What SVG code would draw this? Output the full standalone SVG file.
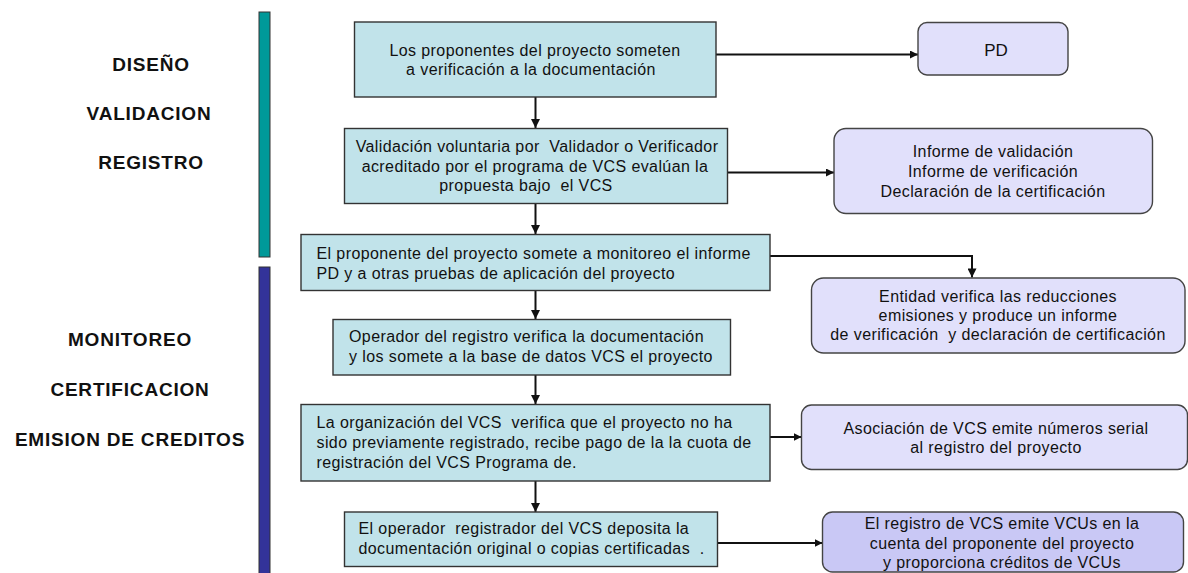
<svg xmlns="http://www.w3.org/2000/svg" width="1188" height="573" viewBox="0 0 1188 573">
<style>
text{font-family:"Liberation Sans",Arial,sans-serif;fill:#111;white-space:pre}
.t{font-size:16px;letter-spacing:0.4px}
.c{text-anchor:middle}
.lbl{font-size:19px;font-weight:bold;letter-spacing:0.8px;text-anchor:middle}
.bx{fill:#c1e3ea;stroke:#333;stroke-width:1.4}
.rb{fill:#e1e0fb;stroke:#444;stroke-width:1.4}
.rb2{fill:#c9c8f5;stroke:#444;stroke-width:1.4}
.cn{fill:none;stroke:#111;stroke-width:2}
</style>
<defs>
<marker id="ah" viewBox="0 0 10 10" refX="10" refY="5" markerWidth="10" markerHeight="9" markerUnits="userSpaceOnUse" orient="auto"><path d="M0,0 L10,5 L0,10 z" fill="#111"/></marker>
<marker id="ahs" viewBox="0 0 10 10" refX="10" refY="5" markerWidth="8" markerHeight="8" markerUnits="userSpaceOnUse" orient="auto"><path d="M0,0 L10,5 L0,10 z" fill="#111"/></marker>
</defs>
<rect width="1188" height="573" fill="#fff"/>

<g id="phase1">
<rect x="259" y="12" width="11" height="245" fill="#009999" stroke="#333" stroke-width="1"/>
<text class="lbl" x="151" y="71">DISEÑO</text>
<text class="lbl" x="149" y="120">VALIDACION</text>
<text class="lbl" x="151" y="169">REGISTRO</text>
</g>
<g id="phase2">
<rect x="259" y="267" width="11" height="310" fill="#333399" stroke="#333" stroke-width="1"/>
<text class="lbl" x="130" y="346">MONITOREO</text>
<text class="lbl" x="130" y="396">CERTIFICACION</text>
<text class="lbl" x="130" y="446">EMISION DE CREDITOS</text>
</g>

<g id="connectors">
<line class="cn" x1="535.5" y1="97" x2="535.5" y2="128" marker-end="url(#ah)"/>
<line class="cn" x1="535.5" y1="203" x2="535.5" y2="234" marker-end="url(#ah)"/>
<line class="cn" x1="535.5" y1="290" x2="535.5" y2="319" marker-end="url(#ah)"/>
<line class="cn" x1="535.5" y1="375" x2="535.5" y2="404" marker-end="url(#ah)"/>
<line class="cn" x1="535.5" y1="481" x2="535.5" y2="512" marker-end="url(#ah)"/>
<line class="cn" x1="716" y1="54.5" x2="918" y2="54.5" marker-end="url(#ahs)"/>
<line class="cn" x1="727.5" y1="172.5" x2="834" y2="172.5" marker-end="url(#ahs)"/>
<polyline class="cn" points="770,256 972,256 972,277.5" marker-end="url(#ah)"/>
<line class="cn" x1="770" y1="437" x2="801.5" y2="437" marker-end="url(#ahs)"/>
<line class="cn" x1="717.5" y1="543" x2="822.5" y2="543" marker-end="url(#ahs)"/>
</g>

<g id="n1">
<rect class="bx" x="354.5" y="22" width="361.5" height="75"/>
<text class="t c" x="535" y="55.5">Los proponentes del proyecto someten</text>
<text class="t c" x="531" y="75">a verificación a la documentación</text>
</g>
<g id="n2">
<rect class="bx" x="344.5" y="128.5" width="383" height="75"/>
<text class="t c" x="537" y="152">Validación voluntaria por  Validador o Verificador</text>
<text class="t c" x="535" y="171.5">acreditado por el programa de VCS evalúan la</text>
<text class="t c" x="526" y="191">propuesta bajo  el VCS</text>
</g>
<g id="n3">
<rect class="bx" x="301" y="234.5" width="469" height="56"/>
<text class="t" x="316.5" y="259">El proponente del proyecto somete a monitoreo el informe</text>
<text class="t" x="316.5" y="278.5">PD y a otras pruebas de aplicación del proyecto</text>
</g>
<g id="n4">
<rect class="bx" x="333" y="319.5" width="397.5" height="55.5"/>
<text class="t" x="349" y="342">Operador del registro verifica la documentación</text>
<text class="t" x="349" y="362">y los somete a la base de datos VCS el proyecto</text>
</g>
<g id="n5">
<rect class="bx" x="301" y="404.5" width="469" height="76.5"/>
<text class="t" x="316.5" y="427.5">La organización del VCS  verifica que el proyecto no ha</text>
<text class="t" x="316.5" y="447.5">sido previamente registrado, recibe pago de la la cuota de</text>
<text class="t" x="316.5" y="467.5">registración del VCS Programa de.</text>
</g>
<g id="n6">
<rect class="bx" x="344.5" y="512" width="373" height="54.5"/>
<text class="t" x="358.5" y="534">El operador  registrador del VCS deposita la</text>
<text class="t" x="358.5" y="553.5">documentación original o copias certificadas  .</text>
</g>

<g id="r1">
<rect class="rb" x="918" y="22.5" width="150" height="52.5" rx="9"/>
<text class="c" x="996" y="56" font-size="17">PD</text>
</g>
<g id="r2">
<rect class="rb" x="834" y="128.5" width="318.5" height="85" rx="12"/>
<text class="t c" x="993" y="157">Informe de validación</text>
<text class="t c" x="993" y="177">Informe de verificación</text>
<text class="t c" x="993" y="197">Declaración de la certificación</text>
</g>
<g id="r3">
<rect class="rb" x="811.5" y="278" width="373.5" height="75" rx="12"/>
<text class="t c" x="998" y="302">Entidad verifica las reducciones</text>
<text class="t c" x="998" y="321">emisiones y produce un informe</text>
<text class="t c" x="998" y="340">de verificación  y declaración de certificación</text>
</g>
<g id="r4">
<rect class="rb" x="801.5" y="405" width="386" height="64.5" rx="10"/>
<text class="t c" x="996" y="433.5">Asociación de VCS emite números serial</text>
<text class="t c" x="996" y="453">al registro del proyecto</text>
</g>
<g id="r5">
<rect class="rb2" x="822.5" y="512" width="361" height="60" rx="10"/>
<text class="t c" x="1002" y="528.5">El registro de VCS emite VCUs en la</text>
<text class="t c" x="1002" y="548.5">cuenta del proponente del proyecto</text>
<text class="t c" x="1002" y="568">y proporciona créditos de VCUs</text>
</g>
</svg>
